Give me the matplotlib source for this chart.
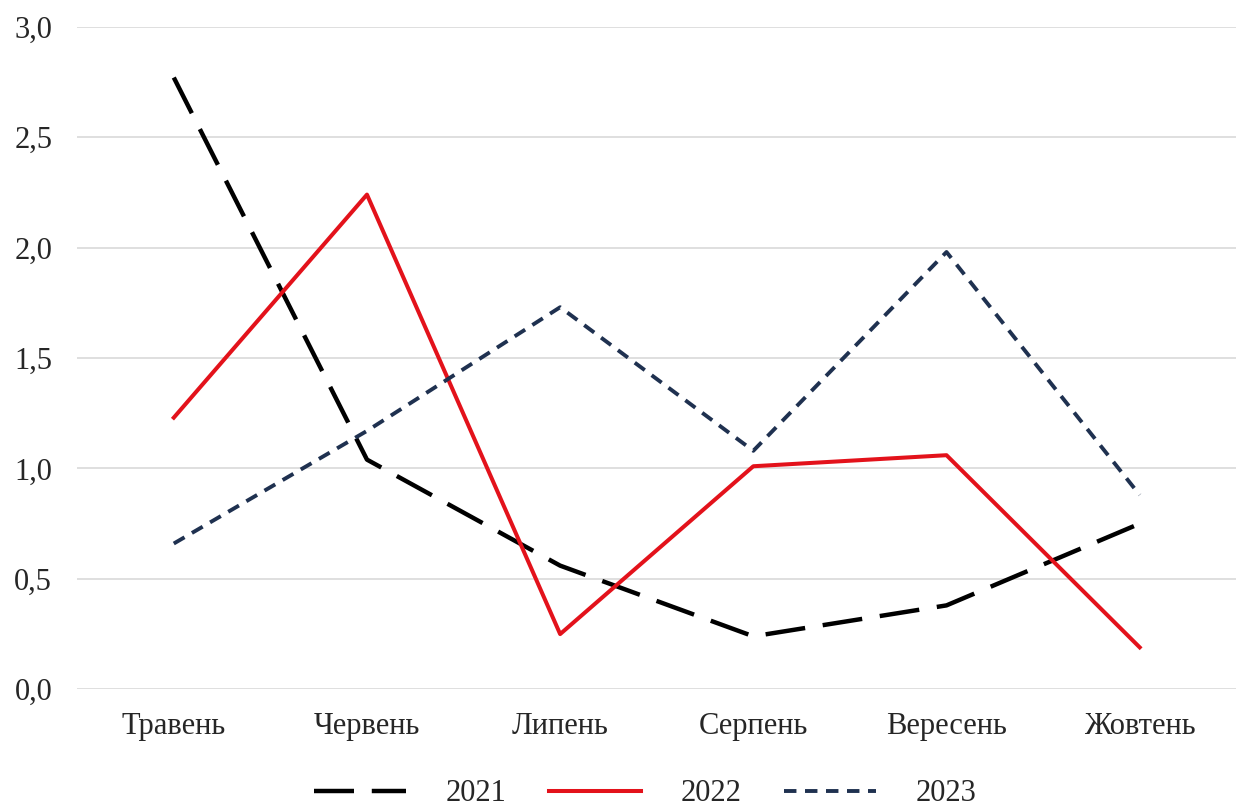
import matplotlib.pyplot as plt
from matplotlib.ticker import FuncFormatter

months = ['Травень', 'Червень', 'Липень', 'Серпень', 'Вересень', 'Жовтень']
y2021 = [2.77, 1.04, 0.56, 0.24, 0.38, 0.75]
y2022 = [1.23, 2.24, 0.25, 1.01, 1.06, 0.19]
y2023 = [0.66, 1.17, 1.73, 1.08, 1.98, 0.88]

plt.rcParams['font.family'] = ['Liberation Serif', 'DejaVu Serif']

fig = plt.figure(figsize=(12.45, 8.1), dpi=100)
ax = fig.add_axes([0.062, 0.149, 0.931, 0.818])

x = range(len(months))
ax.plot(x, y2021, color='black', lw=3.2, dashes=(9, 4), label='2021')
ax.plot(x, y2022, color='#e3121b', lw=2.9, label='2022')
ax.plot(x, y2023, color='#1f3150', lw=2.8, dashes=(3.2, 2.2), label='2023')

ax.set_xlim(-0.5, len(months) - 0.5)
ax.set_ylim(0, 3.0)
ax.set_yticks([0, 0.5, 1.0, 1.5, 2.0, 2.5, 3.0])
ax.yaxis.set_major_formatter(FuncFormatter(lambda v, p: f'{v:.1f}'.replace('.', ',')))
ax.set_xticks(list(x))
ax.set_xticklabels(months)
ax.tick_params(axis='both', length=0, labelsize=22, colors='#262626')
ax.tick_params(axis='x', pad=16)
ax.tick_params(axis='y', pad=18)
ax.grid(axis='y', color='#d9d9d9', lw=1.2)
ax.set_axisbelow(True)
for s in ax.spines.values():
    s.set_visible(False)

# legend below the plot, centred
ax.legend(loc='center', bbox_to_anchor=(0.49, -0.158), ncol=3, frameon=False,
          fontsize=22, handlelength=3.0, columnspacing=1.4, handletextpad=1.3,
          labelcolor='#262626')

fig.savefig('out.png', dpi=100)
